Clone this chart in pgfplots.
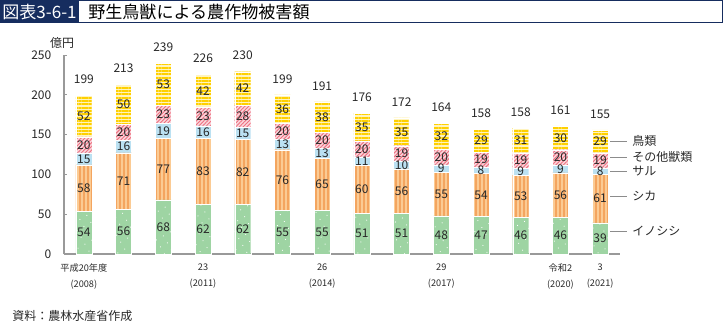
\documentclass[border=0pt]{standalone}
\usepackage{fontspec}
\setmainfont{Noto Sans CJK JP}
\usepackage{pgfplots}
\pgfplotsset{compat=1.18}
\usepackage{pgfplotstable}
\usetikzlibrary{patterns.meta}
\definecolor{navy}{RGB}{22,45,95}
\definecolor{gbase}{RGB}{158,212,163}
\definecolor{obase}{RGB}{251,203,148}
\definecolor{ostripe}{RGB}{244,165,95}
\definecolor{bbase}{RGB}{187,225,242}
\definecolor{pbase}{RGB}{250,214,220}
\definecolor{pstripe}{RGB}{238,112,128}
\definecolor{ybase}{RGB}{255,244,190}
\definecolor{ystripe}{RGB}{255,208,0}
\definecolor{txt}{RGB}{40,40,40}
\pgfplotstableread{
x a b c d e t
0 54 58 15 20 52 199
1 56 71 16 20 50 213
2 68 77 19 23 53 239
3 62 83 16 23 42 226
4 62 82 15 28 42 230
5 55 76 13 20 36 199
6 55 65 13 20 38 191
7 51 60 11 20 35 176
8 51 56 10 19 35 172
9 48 55 9 20 32 164
10 47 54 8 19 29 158
11 46 53 9 19 31 158
12 46 56 9 20 30 161
13 39 61 8 19 29 155
}\data
\pgfplotsset{
  common/.style={
    at={(48pt,50.25pt)}, anchor=south west,
    scale only axis, width=417pt, height=149.25pt,
    xmin=-0.5, xmax=13.5, ymin=0, ymax=250, clip=false,
  },
  lbl/.style={draw=none, mark=none, nodes near coords, point meta=explicit symbolic,
    every node near coord/.style={anchor=center, font=\fontsize{9}{10}\selectfont, text=txt, inner sep=0pt}},
}
\begin{document}
\begin{tikzpicture}
\useasboundingbox (0,0) rectangle (542.25pt,240.75pt);
\begin{axis}[common,
  ybar stacked, bar width=12pt,
  axis x line*=bottom, axis y line*=left,
  axis line style={draw=black!40, line width=0.8pt},
  ytick={0,50,...,250},
  ytick style={draw=black!40, line width=0.6pt},
  tick align=inside, major tick length=2.5pt,
  xtick={0,3,6,9,12,13},
  xticklabels={平成20年度\\(2008), 23\\(2011), 26\\(2014), 29\\(2017), 令和2\\(2020), 3\\(2021)},
  xtick style={draw=none},
  xticklabel style={align=center, anchor=north, yshift=-4pt, text=txt, font=\fontsize{6.9}{12}\selectfont},
  yticklabel style={xshift=-6pt, text=txt, font=\fontsize{9}{10}\selectfont},
  /pgf/number format/assume math mode=true,
]
\addplot[fill=gbase, draw=white, line width=0.3pt, postaction={pattern={Dots[distance=6pt, radius=0.45pt, angle=30]}, pattern color=white}] table[x=x, y=a] {\data};
\addplot[fill=obase, draw=white, line width=0.3pt, postaction={pattern={Lines[angle=90, distance=3pt, line width=0.9pt]}, pattern color=ostripe}] table[x=x, y=b] {\data};
\addplot[fill=bbase, draw=white, line width=0.3pt] table[x=x, y=c] {\data};
\addplot[fill=pbase, draw=white, line width=0.3pt, postaction={pattern={Lines[angle=45, distance=2pt, line width=0.7pt]}, pattern color=pstripe}] table[x=x, y=d] {\data};
\addplot[fill=ybase, draw=white, line width=0.3pt, postaction={pattern={Lines[angle=0, distance=2.5pt, line width=1.4pt]}, pattern color=ystripe}] table[x=x, y=e] {\data};
\end{axis}
\begin{axis}[common, hide axis]
\addplot[lbl] table[x=x, y expr=\thisrow{a}/2, meta=a] {\data};
\addplot[lbl] table[x=x, y expr=\thisrow{a}+\thisrow{b}/2, meta=b] {\data};
\addplot[lbl] table[x=x, y expr=\thisrow{a}+\thisrow{b}+\thisrow{c}/2, meta=c] {\data};
\addplot[lbl] table[x=x, y expr=\thisrow{a}+\thisrow{b}+\thisrow{c}+\thisrow{d}/2, meta=d] {\data};
\addplot[lbl] table[x=x, y expr=\thisrow{a}+\thisrow{b}+\thisrow{c}+\thisrow{d}+\thisrow{e}/2, meta=e] {\data};
\addplot[lbl, every node near coord/.append style={yshift=12pt}] table[x=x, y expr=\thisrow{a}+\thisrow{b}+\thisrow{c}+\thisrow{d}+\thisrow{e}, meta=t] {\data};
\end{axis}
\begin{scope}[x=1pt, y=1pt]
% title
\fill[navy] (0,223.5) rectangle (59.25,240.75);
\draw[navy, line width=0.75pt] (0.375,223.5) rectangle (541.875,240.375);
\node[text=white, font=\fontsize{12.8}{14}\selectfont, inner sep=0pt] at (29.6,232.1) {図表3-6-1};
\node[anchor=west, text=black, font=\fontsize{12.8}{14}\selectfont, inner sep=0pt] at (66,232.1) {野生鳥獣による農作物被害額};
% unit
\node[text=txt, font=\fontsize{9}{10}\selectfont, inner sep=0pt] at (46.5,208.5) {億円};
% legend
\foreach \py/\lab in {141/鳥類, 157/その他獣類, 171/サル, 196/シカ, 231/イノシシ} {
  \draw[black!45, line width=0.6pt] (457.5,{0.75*(321-\py)}) -- (470.25,{0.75*(321-\py)});
  \node[anchor=west, text=txt, font=\fontsize{9}{10}\selectfont, inner sep=0pt] at (474,{0.75*(321-\py)}) {\lab};
}
% source
\node[anchor=west, text=txt, font=\fontsize{9}{10}\selectfont, inner sep=0pt] at (9,4) {資料：農林水産省作成};
\end{scope}
\end{tikzpicture}
\end{document}
